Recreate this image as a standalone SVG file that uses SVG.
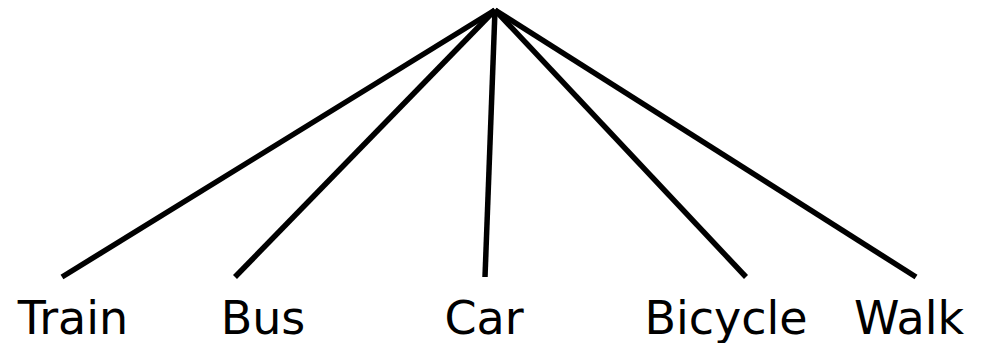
<svg xmlns="http://www.w3.org/2000/svg" width="984" height="343" viewBox="0 0 984 343">
<style>
.c line{stroke:#000;stroke-width:5.5;stroke-linecap:butt}
text{font-family:"DejaVu Sans",Verdana,sans-serif;font-size:46px;fill:#000;text-anchor:middle}
</style>
<rect width="984" height="343" fill="#fff"/>
<g class="c" id="connectors">
<line x1="495" y1="10" x2="62" y2="277"/>
<line x1="495" y1="10" x2="235" y2="277"/>
<line x1="495" y1="10" x2="485" y2="277"/>
<line x1="495" y1="10" x2="746" y2="277"/>
<line x1="495" y1="10" x2="916" y2="277"/>
</g>
<g id="train"><text x="73" y="334">Train</text></g>
<g id="bus"><text x="263" y="334">Bus</text></g>
<g id="car"><text x="484" y="334">Car</text></g>
<g id="bicycle"><text x="726" y="334">Bicycle</text></g>
<g id="walk"><text x="909" y="334">Walk</text></g>
</svg>
